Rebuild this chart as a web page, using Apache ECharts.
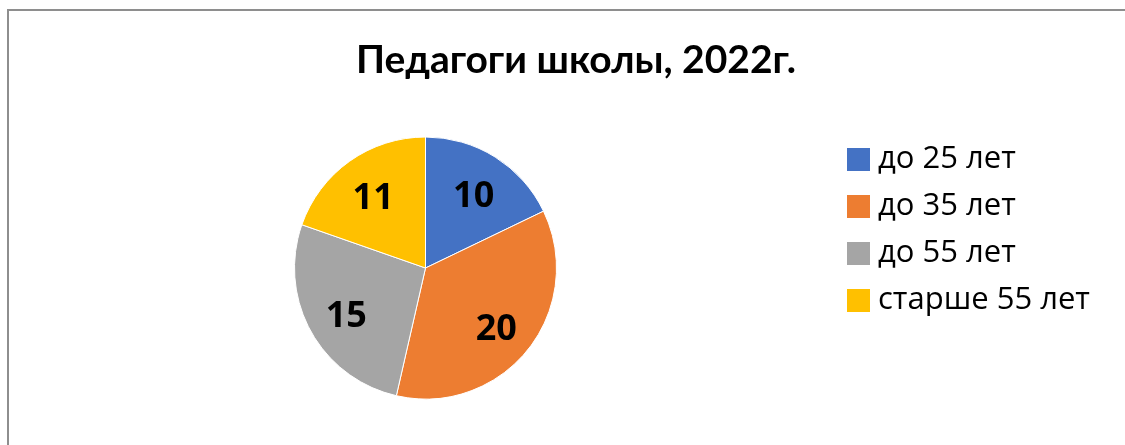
<!DOCTYPE html>
<html>
<head>
<meta charset="utf-8">
<script src="https://cdn.jsdelivr.net/npm/echarts@6/dist/echarts.min.js"></script>
<style>
  html, body { margin: 0; padding: 0; background: #fff; }
  #chart { width: 1125px; height: 445px; }
  .frame {
    position: absolute; left: 7px; top: 9px; width: 1200px; height: 500px;
    border-top: 2px solid #8e8e8e; border-left: 2px solid #8e8e8e;
    pointer-events: none;
  }
</style>
</head>
<body>
<div id="chart"></div>
<div class="frame"></div>
<script>
var titleText = 'Педагоги школы, 2022г.'
var categories = ['до 25 лет', 'до 35 лет', 'до 55 лет', 'старше 55 лет']
var values = [10, 20, 15, 11]
var colors = ['#4472C4', '#ED7D31', '#A5A5A5', '#FFC000']

var chartDom = document.getElementById('chart')
var myChart = echarts.init(chartDom)
var option

var pieData = categories.map(function (name, i) {
  return { name: name, value: values[i], itemStyle: { color: colors[i] } }
})

option = {
  animation: false,
  title: {
    text: titleText,
    left: 571,
    top: 36,
    textAlign: 'center',
    textStyle: {
      fontFamily: 'Lato',
      fontWeight: 'bold',
      fontSize: 39,
      color: '#000'
    }
  },
  legend: {
    orient: 'vertical',
    left: 845,
    top: 144,
    padding: 0,
    icon: 'rect',
    itemWidth: 25,
    itemHeight: 25,
    itemGap: 16,
    data: categories,
    textStyle: {
      fontFamily: 'Open Sans',
      fontSize: 31,
      lineHeight: 30,
      color: '#000',
      padding: [0, 0, 0, 2]
    }
  },
  series: [
    {
      name: 'pie',
      type: 'pie',
      center: [425.5, 268],
      radius: [0, 131],
      startAngle: 90,
      clockwise: true,
      itemStyle: { borderColor: '#fff', borderWidth: 1 },
      label: { show: false },
      labelLine: { show: false },
      emphasis: { disabled: true },
      data: pieData
    },
    {
      // transparent ring only used to place the value labels further out
      name: 'labels',
      type: 'pie',
      silent: true,
      center: [425.5, 268],
      radius: [44, 131],
      startAngle: 90,
      clockwise: true,
      legendHoverLink: false,
      itemStyle: { color: 'rgba(0,0,0,0)', borderWidth: 0 },
      label: {
        show: true,
        position: 'inside',
        formatter: '{c}',
        offset: [0, 5],
        fontFamily: 'Open Sans',
        fontWeight: 'bold',
        fontSize: 36,
        color: '#000'
      },
      labelLine: { show: false },
      data: values.map(function (v, i) { return { name: categories[i] + ' ', value: v } })
    }
  ]
}

option && myChart.setOption(option)
</script>
</body>
</html>
